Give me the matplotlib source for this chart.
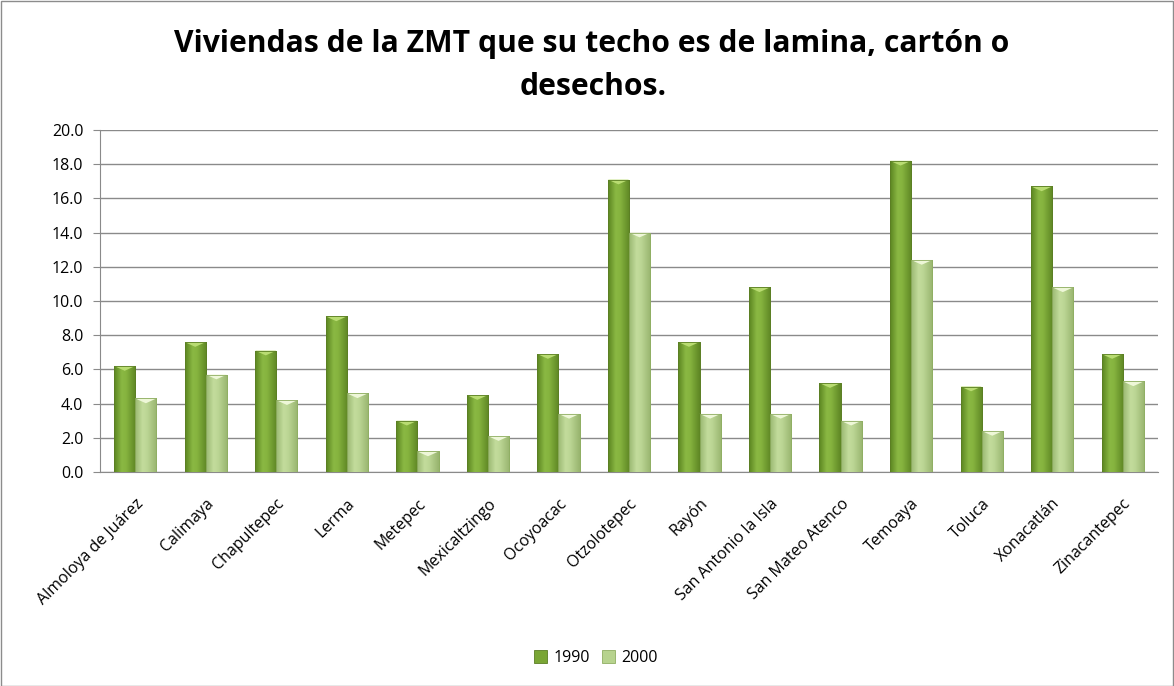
import matplotlib
matplotlib.use("Agg")
import matplotlib.pyplot as plt
import numpy as np
from matplotlib.patches import Rectangle, Polygon
from matplotlib.colors import to_rgb

categories = ["Almoloya de Juárez", "Calimaya", "Chapultepec", "Lerma", "Metepec",
              "Mexicaltzingo", "Ocoyoacac", "Otzolotepec", "Rayón", "San Antonio la Isla",
              "San Mateo Atenco", "Temoaya", "Toluca", "Xonacatlán", "Zinacantepec"]
v1990 = [6.2, 7.6, 7.1, 9.1, 3.0, 4.5, 6.9, 17.1, 7.6, 10.8, 5.2, 18.2, 5.0, 16.7, 6.9]
v2000 = [4.3, 5.7, 4.2, 4.6, 1.2, 2.1, 3.4, 14.0, 3.4, 3.4, 3.0, 12.4, 2.4, 10.8, 5.3]
series_names = ["1990", "2000"]
yticks = [0, 2, 4, 6, 8, 10, 12, 14, 16, 18, 20]

FONT = "Open Sans"
W, H = 1174, 686
fig = plt.figure(figsize=(W/100, H/100), dpi=100)
fig.patch.set_facecolor("white")
fig.add_artist(Rectangle((0.5/W, 0.5/H), 1-1.5/W, 1-1.5/H, transform=fig.transFigure,
                         fill=False, edgecolor="#8c8c8c", linewidth=1))

left, right, top, bottom = 100, 1158, 130, 472
ax = fig.add_axes([left/W, 1-bottom/H, (right-left)/W, (bottom-top)/H])

x = np.arange(len(categories))
bw = 0.3
b1 = ax.bar(x - bw/2, v1990, bw, color="#7aa635", edgecolor="#5b7e24", linewidth=0.6,
            label=series_names[0], zorder=3)
b2 = ax.bar(x + bw/2, v2000, bw, color="#b7d38e", edgecolor="#8fae62", linewidth=0.6,
            label=series_names[1], zorder=3)


def shade(bars, stops, cap_color):
    pos = np.linspace(0, 1, 64)
    cols = np.array([to_rgb(c) for _, c in stops])
    ps = np.array([p for p, _ in stops])
    grad = np.stack([np.interp(pos, ps, cols[:, k]) for k in range(3)], axis=-1)[None, :, :]
    for r in bars:
        x0, y0, w, h = r.get_x(), r.get_y(), r.get_width(), r.get_height()
        im = ax.imshow(grad, extent=[x0, x0 + w, y0, y0 + h], aspect="auto",
                       zorder=3.1, interpolation="bilinear")
        im.set_clip_path(r)
        capd = 0.28
        ax.add_patch(Polygon([[x0, y0 + h], [x0 + w, y0 + h], [x0 + w * 0.5, y0 + h - capd]],
                             closed=True, facecolor=cap_color, edgecolor="none", zorder=3.2))
        ax.add_patch(Rectangle((x0, y0), w, h, fill=False, edgecolor=r.get_edgecolor(),
                               linewidth=0.6, zorder=3.3))


shade(b1, [(0, "#5a8420"), (0.35, "#8ab843"), (0.55, "#86b43f"), (1, "#5e8624")], "#b9dc72")
shade(b2, [(0, "#9ab872"), (0.35, "#c3dc9c"), (0.55, "#bcd695"), (1, "#98b46e")], "#eef7d8")

ax.set_xlim(-0.5, len(categories)-0.5)
ax.set_ylim(0, 20)
ax.set_yticks(yticks)
ax.set_yticklabels([f"{t:.1f}" for t in yticks], fontsize=11.5, family=FONT)
ax.yaxis.grid(True, color="#8a8a8a", linewidth=1, zorder=0)
ax.set_axisbelow(True)
for s in ["top", "right"]:
    ax.spines[s].set_visible(False)
ax.spines["left"].set_color("#8a8a8a")
ax.spines["bottom"].set_color("#8a8a8a")
ax.tick_params(axis="y", length=5, color="#8a8a8a", pad=7)
ax.tick_params(axis="x", length=0, pad=17)
ax.set_xticks(x)
ax.set_xticklabels(categories, rotation=45, ha="right", rotation_mode="anchor",
                   fontsize=11.5, family=FONT)

fig.text(592/W, 1-52/H, "Viviendas de la ZMT que su techo es de lamina, cartón o",
         ha="center", va="baseline", fontsize=21.7, fontweight="bold", family=FONT)
fig.text(593/W, 1-95/H, "desechos.", ha="center", va="baseline", fontsize=21.7,
         fontweight="bold", family=FONT)

fig.legend(handles=[b1, b2], labels=series_names, loc="center", bbox_to_anchor=(596/W, 1-658/H),
           ncol=2, frameon=False, handlelength=0.8, handleheight=0.8,
           handletextpad=0.4, columnspacing=0.8, prop={"family": FONT, "size": 11.5})

fig.savefig("out.png", dpi=100)
